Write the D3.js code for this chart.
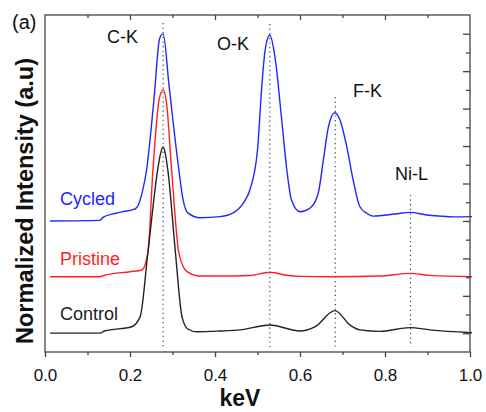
<!DOCTYPE html>
<html>
<head>
    <script src='https://cdn.jsdelivr.net/npm/d3@7'></script>
    <style>
        html, body { margin: 0; padding: 0; background: white; }
        text { font-family: 'Liberation Sans', Arial, sans-serif; }
    </style>
</head>
<body>
<script>
    // spectra (x in keV, y in arbitrary stacked units)
    const cycledKeV = [0.012, 0.129, 0.137, 0.165, 0.184, 0.207, 0.216, 0.23, 0.239, 0.256, 0.27, 0.278, 0.292, 0.315, 0.325, 0.336, 0.365, 0.412, 0.443, 0.467, 0.482, 0.5, 0.51, 0.518, 0.529, 0.541, 0.557, 0.569, 0.58, 0.6, 0.624, 0.643, 0.655, 0.667, 0.682, 0.694, 0.71, 0.725, 0.741, 0.757, 0.772, 0.824, 0.859, 0.898, 0.929, 0.96, 1.005];
    const cycledInt = [7.0, 7.03, 7.2, 7.4, 7.5, 7.6, 7.72, 8.65, 9.72, 13.4, 16.77, 16.99, 14.2, 9.72, 8.12, 7.43, 7.17, 7.23, 7.43, 7.96, 8.65, 10.79, 14.17, 16.13, 16.93, 15.77, 12.39, 9.72, 8.12, 7.49, 7.69, 8.49, 10.26, 12.04, 12.78, 12.39, 10.97, 9.19, 7.76, 7.41, 7.26, 7.37, 7.46, 7.32, 7.26, 7.22, 7.23];

    const pristineKeV = [0.012, 0.129, 0.14, 0.2, 0.228, 0.242, 0.254, 0.269, 0.278, 0.286, 0.298, 0.315, 0.334, 0.365, 0.412, 0.482, 0.529, 0.565, 0.6, 0.682, 0.788, 0.859, 0.906, 1.005];
    const pristineInt = [4.02, 4.02, 4.1, 4.29, 4.38, 5.29, 9.72, 13.55, 14.0, 13.3, 9.72, 5.29, 4.29, 4.06, 4.06, 4.09, 4.26, 4.11, 4.04, 4.02, 4.06, 4.2, 4.09, 4.02];

    const controlKeV = [0.012, 0.129, 0.14, 0.204, 0.224, 0.242, 0.265, 0.272, 0.278, 0.283, 0.289, 0.307, 0.322, 0.336, 0.357, 0.412, 0.459, 0.529, 0.6, 0.635, 0.682, 0.718, 0.741, 0.788, 0.859, 0.906, 1.005];
    const controlInt = [1.01, 1.01, 1.12, 1.35, 1.89, 5.29, 9.72, 10.61, 10.95, 10.6, 9.72, 5.29, 1.92, 1.23, 1.08, 1.12, 1.18, 1.44, 1.12, 1.34, 2.21, 1.44, 1.18, 1.1, 1.3, 1.18, 1.03];

    // element lines: position, top of the dotted marker, label
    const lineKeV = [0.278, 0.529, 0.683, 0.86];
    const lineTop = [17.57, 17.52, 13.62, 8.39];
    const lineNames = ['C-K', 'O-K', 'F-K', 'Ni-L'];

    const seriesNames = ['Cycled', 'Pristine', 'Control'];
    const seriesColors = ['#2424ff', '#ff1f1f', '#222222'];

    const xMajor = [0, 0.2, 0.4, 0.6, 0.8, 1.0];
    const xMinor = [0.1, 0.3, 0.5, 0.7, 0.9];
    const yMajor = [1, 3, 5, 7, 9, 11, 13, 15, 17];
    const yMinor = [2, 4, 6, 8, 10, 12, 14, 16];

    const width = 486, height = 412;
    const plotLeft = 45, plotRight = 470, plotTop = 15, plotBottom = 352;

    const svg = d3.select('body').append('svg')
        .attr('width', width)
        .attr('height', height);

    const x = d3.scaleLinear().domain([0, 1]).range([plotLeft, plotRight]);
    const y = d3.scaleLinear().domain([0, 18]).range([plotBottom, plotTop]);

    // dotted element markers
    svg.append('g')
        .selectAll('line')
        .data(lineKeV)
        .join('line')
        .attr('x1', d => x(d)).attr('x2', d => x(d))
        .attr('y1', (d, i) => y(lineTop[i]))
        .attr('y2', y(0.27))
        .attr('stroke', '#444')
        .attr('stroke-width', 1.2)
        .attr('stroke-dasharray', '1.2,3.4');

    // spectra
    const line = d3.line()
        .x(d => x(d[0]))
        .y(d => y(d[1]))
        .curve(d3.curveMonotoneX);

    const spectra = [
        d3.zip(cycledKeV, cycledInt),
        d3.zip(pristineKeV, pristineInt),
        d3.zip(controlKeV, controlInt)
    ];

    svg.append('g')
        .attr('fill', 'none')
        .attr('stroke-width', 1.4)
        .selectAll('path')
        .data(spectra)
        .join('path')
        .attr('stroke', (d, i) => seriesColors[i])
        .attr('d', line);

    // frame
    svg.append('rect')
        .attr('x', plotLeft).attr('y', plotTop)
        .attr('width', plotRight - plotLeft).attr('height', plotBottom - plotTop)
        .attr('fill', 'none')
        .attr('stroke', '#444')
        .attr('stroke-width', 1.3);

    // axes
    let styleAxis = (g) => {
        g.select('.domain').remove();
        g.selectAll('line').attr('stroke', '#444').attr('stroke-width', 1.3);
        g.selectAll('text')
            .attr('fill', '#111')
            .style('font-size', '17px')
            .style('font-family', "'Liberation Sans', Arial, sans-serif");
    };

    svg.append('g')
        .attr('transform', `translate(0,${plotBottom})`)
        .call(d3.axisBottom(x).tickValues(xMajor).tickSize(5).tickPadding(12).tickFormat(d3.format('.1f')))
        .call(styleAxis);
    svg.append('g')
        .attr('transform', `translate(0,${plotBottom})`)
        .call(d3.axisBottom(x).tickValues(xMinor).tickSize(3).tickFormat(''))
        .call(styleAxis);

    svg.append('g')
        .attr('transform', `translate(0,${plotTop})`)
        .call(d3.axisBottom(x).tickValues(xMajor.slice(1, -1)).tickSize(5).tickFormat(''))
        .call(styleAxis);
    svg.append('g')
        .attr('transform', `translate(0,${plotTop})`)
        .call(d3.axisBottom(x).tickValues(xMinor).tickSize(3).tickFormat(''))
        .call(styleAxis);

    svg.append('g')
        .attr('transform', `translate(${plotRight},0)`)
        .call(d3.axisLeft(y).tickValues(yMajor).tickSize(7).tickFormat(''))
        .call(styleAxis);
    svg.append('g')
        .attr('transform', `translate(${plotRight},0)`)
        .call(d3.axisLeft(y).tickValues(yMinor).tickSize(4).tickFormat(''))
        .call(styleAxis);

    // axis titles
    svg.append('text')
        .attr('x', 240).attr('y', 406)
        .attr('text-anchor', 'middle')
        .style('font-size', '23px')
        .style('font-weight', 'bold')
        .attr('fill', '#111')
        .text('keV');

    svg.append('text')
        .attr('transform', 'translate(33,201) rotate(-90)')
        .attr('text-anchor', 'middle')
        .style('font-size', '23.5px')
        .style('font-weight', 'bold')
        .attr('fill', '#111')
        .text('Normalized Intensity (a.u)');

    svg.append('text')
        .attr('x', 12).attr('y', 29)
        .style('font-size', '20px')
        .attr('fill', '#111')
        .text('(a)');

    // element labels
    const lineLabelX = [107, 217, 353, 395];
    const lineLabelY = [42.7, 50, 97, 180];
    svg.append('g')
        .selectAll('text')
        .data(lineNames)
        .join('text')
        .attr('x', (d, i) => lineLabelX[i])
        .attr('y', (d, i) => lineLabelY[i])
        .style('font-size', '18px')
        .attr('fill', '#111')
        .text(d => d);

    // series labels
    const seriesLabelY = [204.6, 264.6, 319.6];
    svg.append('g')
        .selectAll('text')
        .data(seriesNames)
        .join('text')
        .attr('x', 60)
        .attr('y', (d, i) => seriesLabelY[i])
        .style('font-size', '18px')
        .attr('fill', (d, i) => seriesColors[i])
        .text(d => d);
</script>
</body>
</html>
